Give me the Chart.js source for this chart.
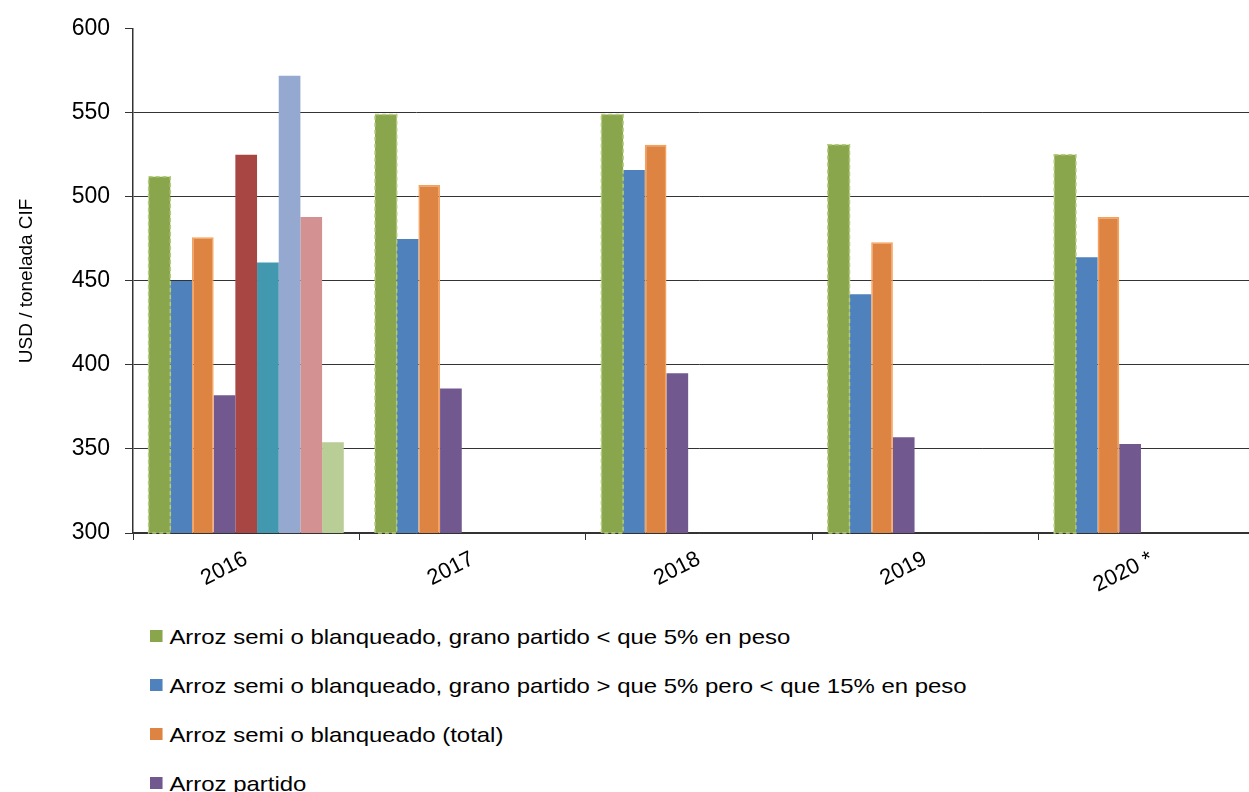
<!DOCTYPE html>
<html lang="es">
<head>
<meta charset="utf-8">
<title>Precios arroz</title>
<script src="https://cdn.jsdelivr.net/npm/chart.js@4.4.1/dist/chart.umd.min.js"></script>
<style>
  html, body { margin: 0; padding: 0; background: #fff; overflow: hidden; }
  body { width: 1249px; height: 792px; position: relative; font-family: "Liberation Sans", Arial, sans-serif; }
  #wrap { position: absolute; left: 0; top: 0; width: 1265px; height: 600px; }
  #legend { position: absolute; left: 150px; top: 612px; margin: 0; padding: 0; list-style: none;
            transform: scaleX(1.14); transform-origin: 0 0; }
  #legend li { height: 49px; line-height: 49px; font-size: 21px; color: #000; white-space: nowrap; }
  #legend li span { display: inline-block; width: 11px; height: 12px; margin-right: 6px; vertical-align: middle; position: relative; top: -2px; }
</style>
</head>
<body>
<div id="wrap"><canvas id="precioChart"></canvas></div>
<ul id="legend"></ul>
<script>
// datos (USD / tonelada CIF)
const years = ['2016', '2017', '2018', '2019', '2020 *'];
const menos5 = [512, 549, 549, 531, 525];
const entre5y15 = [450, 475, 516, 442, 464];
const total = [476, 507, 531, 473, 488];
const partido = [382, 386, 395, 357, 353];
const serie5 = [525, null, null, null, null];
const serie6 = [461, null, null, null, null];
const serie7 = [572, null, null, null, null];
const serie8 = [488, null, null, null, null];
const serie9 = [354, null, null, null, null];
const yTicks = [300, 350, 400, 450, 500, 550, 600];

const series = [
  { label: 'Arroz semi o blanqueado, grano partido < que 5% en peso', data: menos5, color: '#8AA64D' },
  { label: 'Arroz semi o blanqueado, grano partido > que 5% pero < que 15% en peso', data: entre5y15, color: '#4F81BD' },
  { label: 'Arroz semi o blanqueado (total)', data: total, color: '#DD8442', border: '#F7A05A' },
  { label: 'Arroz partido', data: partido, color: '#71588F' },
  { label: 'Serie 5', data: serie5, color: '#A84644' },
  { label: 'Serie 6', data: serie6, color: '#4298AF' },
  { label: 'Serie 7', data: serie7, color: '#95A9D0' },
  { label: 'Serie 8', data: serie8, color: '#D39291' },
  { label: 'Serie 9', data: serie9, color: '#B9CD96' }
];

const FONT = '"Liberation Sans", Arial, sans-serif';

// borde punteado de la primera serie
const dashedBorder = {
  id: 'dashedBorder',
  afterDatasetsDraw(chart) {
    const meta = chart.getDatasetMeta(0);
    const c = chart.ctx;
    const bottom = chart.chartArea.bottom;
    c.save();
    c.setLineDash([4, 3]);
    c.strokeStyle = '#B3CC7A';
    c.lineWidth = 1.5;
    meta.data.forEach(bar => {
      const p = bar.getProps(['x', 'y', 'base', 'width'], true);
      const base = Math.min(p.base, bottom);
      c.strokeRect(p.x - p.width / 2, p.y, p.width, base - p.y);
    });
    c.restore();
  }
};

const chart = new Chart(document.getElementById('precioChart'), {
  type: 'bar',
  data: {
    labels: years,
    datasets: series.map(s => ({
      label: s.label,
      data: s.data,
      backgroundColor: s.color,
      borderColor: s.border || s.color,
      borderWidth: s.border ? 1.5 : 0,
      barPercentage: 1.0,
      categoryPercentage: 0.862
    }))
  },
  plugins: [dashedBorder],
  options: {
    responsive: true,
    maintainAspectRatio: false,
    animation: false,
    layout: { padding: { top: 26, left: 0, right: 0, bottom: 0 } },
    plugins: {
      legend: { display: false },
      tooltip: { enabled: false }
    },
    scales: {
      x: {
        afterFit: scale => { scale.height = 67; },
        border: { color: '#333', width: 1.5 },
        grid: { drawOnChartArea: false, color: '#333', tickLength: 7 },
        ticks: {
          color: '#000',
          font: { family: FONT, size: 22 },
          minRotation: 27,
          maxRotation: 27,
          padding: 6
        }
      },
      y: {
        min: 300,
        max: 600,
        afterFit: scale => { scale.width = 133; },
        afterBuildTicks: scale => { scale.ticks = yTicks.map(v => ({ value: v })); },
        border: { color: '#333', width: 1.5 },
        grid: {
          color: ctx => ctx.tick && ctx.tick.value === 600 ? 'rgba(0,0,0,0)' : '#333',
          tickColor: '#333',
          tickLength: 8
        },
        ticks: {
          color: '#000',
          font: { family: FONT, size: 23 },
          padding: 15
        },
        title: {
          display: true,
          text: 'USD / tonelada CIF',
          color: '#000',
          font: { family: FONT, size: 19 },
          padding: { top: 15, bottom: 0 }
        }
      }
    }
  }
});

// leyenda vertical
const legend = document.getElementById('legend');
chart.data.datasets.forEach(ds => {
  const li = document.createElement('li');
  const box = document.createElement('span');
  box.style.background = ds.backgroundColor;
  li.appendChild(box);
  li.appendChild(document.createTextNode(ds.label));
  legend.appendChild(li);
});
</script>
</body>
</html>
